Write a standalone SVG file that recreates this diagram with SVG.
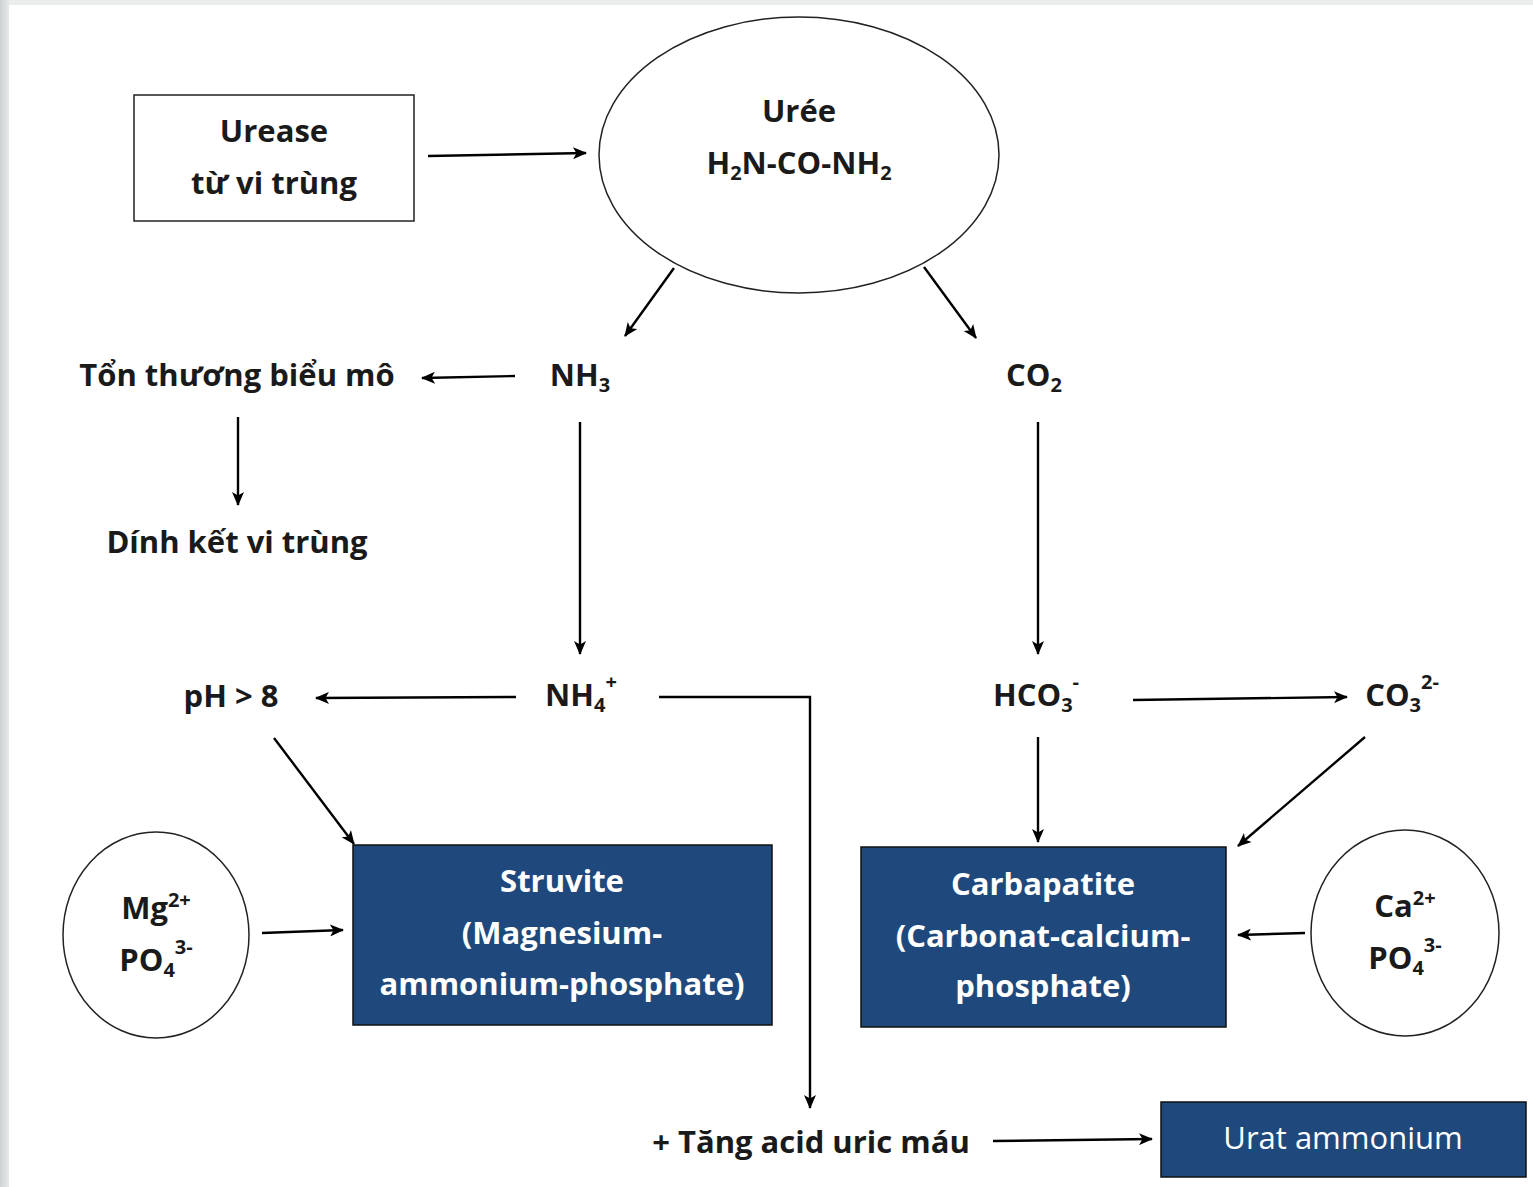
<svg xmlns="http://www.w3.org/2000/svg" width="1533" height="1187" viewBox="0 0 1533 1187">
<defs>
<linearGradient id="lg" x1="0" x2="1" y1="0" y2="0"><stop offset="0" stop-color="#cdd3d3"/><stop offset="1" stop-color="#e6e9e9"/></linearGradient>
<marker id="ah" viewBox="0 0 14 12" refX="13" refY="6" markerWidth="14" markerHeight="12" markerUnits="userSpaceOnUse" orient="auto"><path d="M0,0 L14,6 L0,12 L3.5,6 z" fill="#000"/></marker>
<style>
.t{font-family:"Open Sans","Liberation Sans",sans-serif;font-weight:bold;font-size:31px;fill:#1a1a1a;text-anchor:middle}
.w{fill:#fff}
.n{font-weight:normal}
.s{font-size:20px}
.c{fill:none;stroke:#000;stroke-width:2.4}
.a{marker-end:url(#ah)}
.box{fill:#1f497c;stroke:#111;stroke-width:1.5}
.sh{fill:#fff;stroke:#222;stroke-width:1.5}
</style>
</defs>
<rect width="1533" height="1187" fill="#fff"/>
<rect width="1533" height="5" fill="#ebeded"/>
<rect width="9" height="1187" fill="url(#lg)"/>

<g id="connectors">
<line class="c a" x1="428" y1="156" x2="586" y2="153"/>
<line class="c a" x1="674" y1="268" x2="625" y2="336"/>
<line class="c a" x1="924" y1="267" x2="976" y2="338"/>
<line class="c a" x1="515" y1="376" x2="422" y2="378"/>
<line class="c a" x1="238" y1="417" x2="238" y2="505"/>
<line class="c a" x1="580" y1="422" x2="580" y2="654"/>
<line class="c a" x1="1038" y1="422" x2="1038" y2="654"/>
<line class="c a" x1="516" y1="697" x2="316" y2="698"/>
<polyline class="c a" points="659,697 810,697 810,1108"/>
<line class="c a" x1="1133" y1="700" x2="1347" y2="697"/>
<line class="c a" x1="1038" y1="737" x2="1038" y2="842"/>
<line class="c a" x1="1365" y1="737" x2="1238" y2="846"/>
<line class="c a" x1="274" y1="738" x2="354" y2="844"/>
<line class="c a" x1="262" y1="933" x2="343" y2="930"/>
<line class="c a" x1="1305" y1="933" x2="1238" y2="935"/>
<line class="c a" x1="993" y1="1141" x2="1152" y2="1139"/>
</g>

<g id="urease">
<rect class="sh" x="134" y="95" width="280" height="126"/>
<text class="t" x="274" y="142">Urease</text>
<text class="t" x="274" y="194">từ vi trùng</text>
</g>

<g id="uree">
<ellipse class="sh" cx="799" cy="155" rx="200" ry="138"/>
<text class="t" x="799" y="122">Urée</text>
<text class="t" x="799" y="174">H<tspan class="s" dy="6">2</tspan><tspan dy="-6">N-CO-NH</tspan><tspan class="s" dy="6">2</tspan></text>
</g>

<g id="nh3"><text class="t" x="580" y="386">NH<tspan class="s" dy="6">3</tspan></text></g>
<g id="co2"><text class="t" x="1034" y="386">CO<tspan class="s" dy="6">2</tspan></text></g>
<g id="ton-thuong"><text class="t" x="237" y="386">Tổn thương biểu mô</text></g>
<g id="dinh-ket"><text class="t" x="237" y="553">Dính kết vi trùng</text></g>

<g id="nh4"><text class="t" x="581" y="706">NH<tspan class="s" dy="6">4</tspan><tspan class="s" dy="-23">+</tspan></text></g>
<g id="ph"><text class="t" x="231" y="707">pH &gt; 8</text></g>
<g id="hco3"><text class="t" x="1036" y="706">HCO<tspan class="s" dy="6">3</tspan><tspan class="s" dy="-23">-</tspan></text></g>
<g id="co3"><text class="t" x="1402" y="706">CO<tspan class="s" dy="6">3</tspan><tspan class="s" dy="-23">2-</tspan></text></g>

<g id="mg">
<ellipse class="sh" cx="156" cy="935" rx="93" ry="103"/>
<text class="t" x="156" y="919">Mg<tspan class="s" dy="-12">2+</tspan></text>
<text class="t" x="156" y="971">PO<tspan class="s" dy="6">4</tspan><tspan class="s" dy="-23">3-</tspan></text>
</g>

<g id="struvite">
<rect class="box" x="353" y="845" width="419" height="180"/>
<text class="t w" x="562" y="892">Struvite</text>
<text class="t w" x="562" y="944">(Magnesium-</text>
<text class="t w" x="562" y="995">ammonium-phosphate)</text>
</g>

<g id="carbapatite">
<rect class="box" x="861" y="847" width="365" height="180"/>
<text class="t w" x="1043" y="895">Carbapatite</text>
<text class="t w" x="1043" y="947">(Carbonat-calcium-</text>
<text class="t w" x="1043" y="997">phosphate)</text>
</g>

<g id="ca">
<ellipse class="sh" cx="1405" cy="933" rx="94" ry="103"/>
<text class="t" x="1405" y="917">Ca<tspan class="s" dy="-12">2+</tspan></text>
<text class="t" x="1405" y="969">PO<tspan class="s" dy="6">4</tspan><tspan class="s" dy="-23">3-</tspan></text>
</g>

<g id="tang-acid"><text class="t" x="811" y="1153">+ Tăng acid uric máu</text></g>

<g id="urat">
<rect class="box" x="1161" y="1102" width="365" height="75"/>
<text class="t w n" x="1343" y="1149">Urat ammonium</text>
</g>
</svg>
